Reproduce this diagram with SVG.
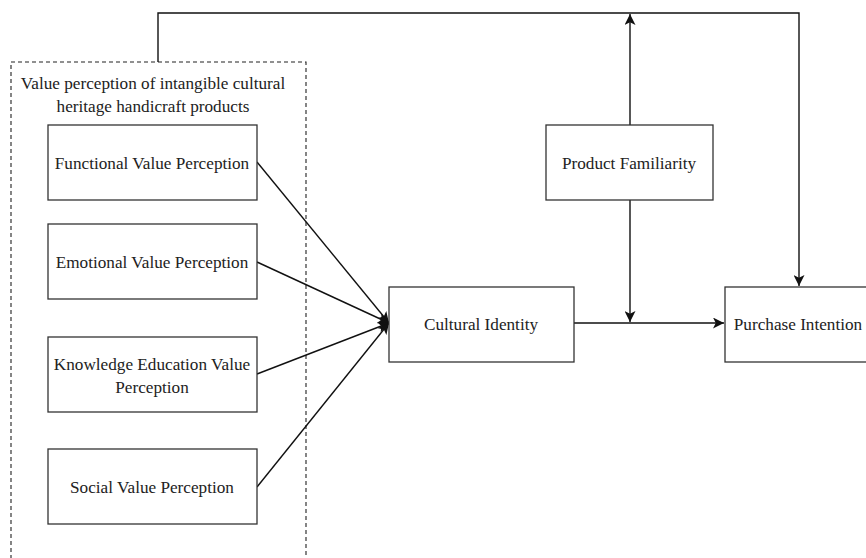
<svg xmlns="http://www.w3.org/2000/svg" width="866" height="558" viewBox="0 0 866 558">
<style>
.box{fill:#fff;stroke:#333;stroke-width:1.3}
.t{font-family:"Liberation Serif","Times New Roman",serif;font-size:17.2px;fill:#222;text-anchor:middle}
.c{fill:none;stroke:#111;stroke-width:1.4}
</style>
<defs>
<marker id="ah" viewBox="0 0 10 10" refX="10" refY="5" markerWidth="11" markerHeight="11" markerUnits="userSpaceOnUse" orient="auto">
<path d="M0,0 L10,5 L0,10 L2.5,5 Z" fill="#111"/>
</marker>
</defs>
<rect id="container" x="11" y="62" width="295" height="510" fill="none" stroke="#222" stroke-width="1.1" stroke-dasharray="4,3"/>
<text class="t" x="153" y="89">Value perception of intangible cultural</text>
<text class="t" x="153" y="112">heritage handicraft products</text>
<g id="connectors">
<path class="c" d="M158,62 V13 H799 V286" marker-end="url(#ah)"/>
<path class="c" d="M630,125 V14" marker-end="url(#ah)"/>
<path class="c" d="M630,200 V322" marker-end="url(#ah)"/>
<path class="c" d="M574,323 H724" marker-end="url(#ah)"/>
<path class="c" d="M257,162 L389,323" marker-end="url(#ah)"/>
<path class="c" d="M257,262 L389,323" marker-end="url(#ah)"/>
<path class="c" d="M257,374 L389,323" marker-end="url(#ah)"/>
<path class="c" d="M257,487 L389,323" marker-end="url(#ah)"/>
</g>
<g id="functional"><rect class="box" x="48" y="125" width="209" height="75"/><text class="t" x="152" y="169">Functional Value Perception</text></g>
<g id="emotional"><rect class="box" x="48" y="224" width="209" height="75"/><text class="t" x="152" y="268">Emotional Value Perception</text></g>
<g id="knowledge"><rect class="box" x="48" y="337" width="209" height="75"/><text class="t" x="152" y="370">Knowledge Education Value</text><text class="t" x="152" y="393">Perception</text></g>
<g id="social"><rect class="box" x="48" y="449" width="209" height="75"/><text class="t" x="152" y="493">Social Value Perception</text></g>
<g id="cultural"><rect class="box" x="389" y="287" width="185" height="75"/><text class="t" x="481" y="330">Cultural Identity</text></g>
<g id="familiarity"><rect class="box" x="546" y="125" width="167" height="75"/><text class="t" x="629" y="169">Product Familiarity</text></g>
<g id="purchase"><rect class="box" x="725" y="287" width="147" height="75"/><text class="t" x="798" y="330">Purchase Intention</text></g>
</svg>
